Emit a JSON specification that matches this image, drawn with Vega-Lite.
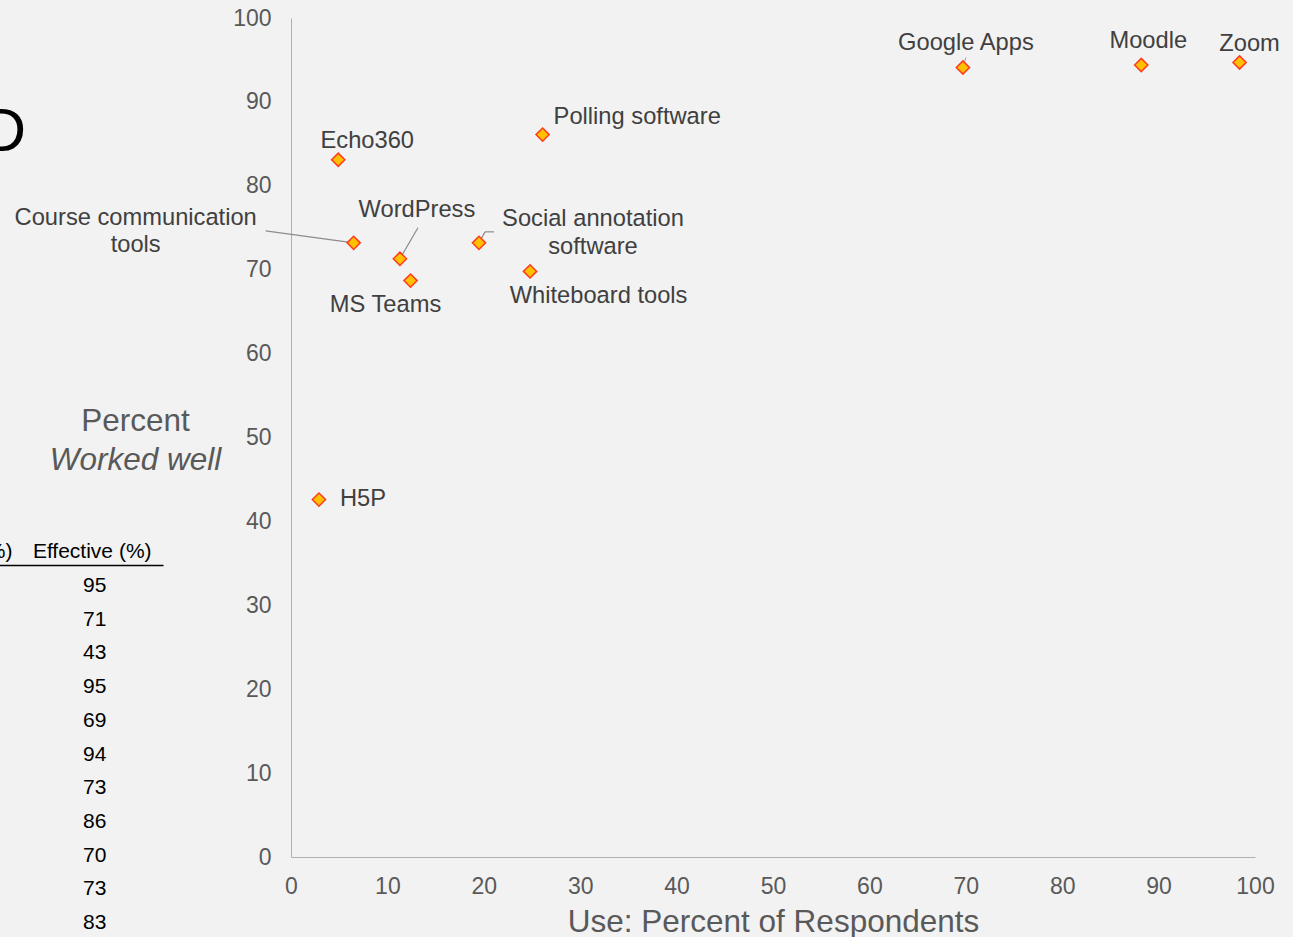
{
  "$schema": "https://vega.github.io/schema/vega-lite/v6.json",
  "width": 964,
  "height": 839,
  "autosize": {"type": "none"},
  "padding": {"left": 291, "top": 18, "right": 38, "bottom": 80},
  "background": "#f2f2f2",
  "config": {
    "view": {"stroke": null},
    "font": "Liberation Sans",
    "text": {"font": "Liberation Sans", "fontSize": 23.7, "color": "#404040", "align": "center", "baseline": "middle"},
    "axis": {"labelFont": "Liberation Sans", "titleFont": "Liberation Sans"}
  },
  "title": {"text": "D", "anchor": "start", "frame": "group", "fontSize": 61, "font": "Liberation Sans", "fontWeight": "normal", "color": "#000000", "baseline": "alphabetic", "offset": 0, "dx": -309, "dy": 205},
  "datasets": {
    "tools": [
      {"order": 1, "tool": "Moodle", "label": "Moodle", "use": 88.2, "worked": 94.4, "effective": 95},
      {"order": 2, "tool": "WordPress", "label": "WordPress", "use": 11.3, "worked": 71.3, "effective": 71},
      {"order": 3, "tool": "H5P", "label": "H5P", "use": 2.9, "worked": 42.6, "effective": 43},
      {"order": 4, "tool": "Zoom", "label": "Zoom", "use": 98.4, "worked": 94.7, "effective": 95},
      {"order": 5, "tool": "MS Teams", "label": "MS Teams", "use": 12.4, "worked": 68.7, "effective": 69},
      {"order": 6, "tool": "Google Apps", "label": "Google Apps", "use": 69.7, "worked": 94.1, "effective": 94},
      {"order": 7, "tool": "Course communication tools", "label": "Course communication\ntools", "use": 6.5, "worked": 73.2, "effective": 73},
      {"order": 8, "tool": "Polling software", "label": "Polling software", "use": 26.1, "worked": 86.1, "effective": 86},
      {"order": 9, "tool": "Whiteboard tools", "label": "Whiteboard tools", "use": 24.8, "worked": 69.8, "effective": 70},
      {"order": 10, "tool": "Social annotation software", "label": "Social annotation\nsoftware", "use": 19.5, "worked": 73.2, "effective": 73},
      {"order": 11, "tool": "Echo360", "label": "Echo360", "use": 4.9, "worked": 83.1, "effective": 83}
    ]
  },
  "data": {"name": "tools"},
  "layer": [
    {
      "layer": [
        {
          "transform": [{"filter": "datum.tool === 'Course communication tools'"}],
          "mark": {"type": "rule", "x2Offset": -88, "y2Offset": -12, "color": "#8c8c8c", "strokeWidth": 1.2},
          "encoding": {"x": {"field": "use", "type": "quantitative"}, "y": {"field": "worked", "type": "quantitative"}, "x2": {"field": "use"}, "y2": {"field": "worked"}}
        },
        {
          "transform": [{"filter": "datum.tool === 'WordPress'"}],
          "mark": {"type": "rule", "x2Offset": 18, "y2Offset": -31, "color": "#8c8c8c", "strokeWidth": 1.2},
          "encoding": {"x": {"field": "use", "type": "quantitative"}, "y": {"field": "worked", "type": "quantitative"}, "x2": {"field": "use"}, "y2": {"field": "worked"}}
        },
        {
          "transform": [{"filter": "datum.tool === 'Social annotation software'"}],
          "mark": {"type": "rule", "x2Offset": 6, "y2Offset": -11, "color": "#8c8c8c", "strokeWidth": 1.2},
          "encoding": {"x": {"field": "use", "type": "quantitative"}, "y": {"field": "worked", "type": "quantitative"}, "x2": {"field": "use"}, "y2": {"field": "worked"}}
        },
        {
          "transform": [{"filter": "datum.tool === 'Social annotation software'"}],
          "mark": {"type": "rule", "xOffset": 6, "yOffset": -11, "x2Offset": 15, "y2Offset": -11, "color": "#8c8c8c", "strokeWidth": 1.2},
          "encoding": {"x": {"field": "use", "type": "quantitative"}, "y": {"field": "worked", "type": "quantitative"}, "x2": {"field": "use"}, "y2": {"field": "worked"}}
        },
        {
          "transform": [{"filter": "datum.tool === 'Google Apps'"}],
          "mark": {"type": "rule", "x2Offset": 3, "y2Offset": -10, "color": "#a0a0a0", "strokeWidth": 1},
          "encoding": {"x": {"field": "use", "type": "quantitative"}, "y": {"field": "worked", "type": "quantitative"}, "x2": {"field": "use"}, "y2": {"field": "worked"}}
        },
        {
          "mark": {"type": "point", "shape": "diamond", "filled": true, "size": 175, "fill": "#ffc000", "stroke": "#ff3b1f", "strokeWidth": 1.5, "opacity": 1},
          "encoding": {
            "x": {
              "field": "use", "type": "quantitative",
              "scale": {"domain": [0, 100], "nice": false, "zero": true},
              "axis": {"title": "Use: Percent of Respondents", "values": [0, 10, 20, 30, 40, 50, 60, 70, 80, 90, 100], "grid": false, "ticks": false, "domainColor": "#b0b0b0", "domainWidth": 1, "labelFontSize": 23, "labelColor": "#595959", "labelPadding": 18, "labelFlush": false, "labelOverlap": false, "titleFontSize": 31.5, "titleColor": "#595959", "titleFontWeight": "normal", "titlePadding": 8}
            },
            "y": {
              "field": "worked", "type": "quantitative",
              "scale": {"domain": [0, 100], "nice": false, "zero": true},
              "axis": {"title": "Percent", "titleAngle": 0, "titleX": -156, "titleY": 403, "titleAlign": "center", "titleBaseline": "middle", "values": [0, 10, 20, 30, 40, 50, 60, 70, 80, 90, 100], "grid": false, "ticks": false, "domainColor": "#b0b0b0", "domainWidth": 1, "labelFontSize": 23, "labelColor": "#595959", "labelPadding": 20, "labelFlush": false, "labelOverlap": false, "titleFontSize": 31.5, "titleColor": "#595959", "titleFontWeight": "normal"}
            }
          }
        },
        {
          "transform": [{"filter": "datum.tool === 'Zoom'"}],
          "mark": {"type": "text", "dx": 10, "dy": -18},
          "encoding": {"x": {"field": "use", "type": "quantitative"}, "y": {"field": "worked", "type": "quantitative"}, "text": {"field": "label"}}
        },
        {
          "transform": [{"filter": "datum.tool === 'Moodle'"}],
          "mark": {"type": "text", "dx": 7, "dy": -24},
          "encoding": {"x": {"field": "use", "type": "quantitative"}, "y": {"field": "worked", "type": "quantitative"}, "text": {"field": "label"}}
        },
        {
          "transform": [{"filter": "datum.tool === 'Google Apps'"}],
          "mark": {"type": "text", "dx": 3, "dy": -25},
          "encoding": {"x": {"field": "use", "type": "quantitative"}, "y": {"field": "worked", "type": "quantitative"}, "text": {"field": "label"}}
        },
        {
          "transform": [{"filter": "datum.tool === 'Polling software'"}],
          "mark": {"type": "text", "align": "left", "dx": 11, "dy": -17.5},
          "encoding": {"x": {"field": "use", "type": "quantitative"}, "y": {"field": "worked", "type": "quantitative"}, "text": {"field": "label"}}
        },
        {
          "transform": [{"filter": "datum.tool === 'Echo360'"}],
          "mark": {"type": "text", "dx": 29, "dy": -19},
          "encoding": {"x": {"field": "use", "type": "quantitative"}, "y": {"field": "worked", "type": "quantitative"}, "text": {"field": "label"}}
        },
        {
          "transform": [{"filter": "datum.tool === 'WordPress'"}],
          "mark": {"type": "text", "dx": 17, "dy": -49},
          "encoding": {"x": {"field": "use", "type": "quantitative"}, "y": {"field": "worked", "type": "quantitative"}, "text": {"field": "label"}}
        },
        {
          "transform": [{"filter": "datum.tool === 'Social annotation software'"}],
          "mark": {"type": "text", "dx": 114, "dy": -24, "lineBreak": "\n", "lineHeight": 28},
          "encoding": {"x": {"field": "use", "type": "quantitative"}, "y": {"field": "worked", "type": "quantitative"}, "text": {"field": "label"}}
        },
        {
          "transform": [{"filter": "datum.tool === 'Whiteboard tools'"}],
          "mark": {"type": "text", "dx": 68.5, "dy": 25},
          "encoding": {"x": {"field": "use", "type": "quantitative"}, "y": {"field": "worked", "type": "quantitative"}, "text": {"field": "label"}}
        },
        {
          "transform": [{"filter": "datum.tool === 'MS Teams'"}],
          "mark": {"type": "text", "dx": -25, "dy": 24.5},
          "encoding": {"x": {"field": "use", "type": "quantitative"}, "y": {"field": "worked", "type": "quantitative"}, "text": {"field": "label"}}
        },
        {
          "transform": [{"filter": "datum.tool === 'Course communication tools'"}],
          "mark": {"type": "text", "dx": -218, "dy": -25, "lineBreak": "\n", "lineHeight": 27},
          "encoding": {"x": {"field": "use", "type": "quantitative"}, "y": {"field": "worked", "type": "quantitative"}, "text": {"field": "label"}}
        },
        {
          "transform": [{"filter": "datum.tool === 'H5P'"}],
          "mark": {"type": "text", "align": "left", "dx": 21, "dy": -1},
          "encoding": {"x": {"field": "use", "type": "quantitative"}, "y": {"field": "worked", "type": "quantitative"}, "text": {"field": "label"}}
        }
      ]
    },
    {
      "layer": [
        {
          "mark": {"type": "text", "fontSize": 21, "color": "#000000", "dx": 3, "dy": 1, "align": "center", "baseline": "middle"},
          "encoding": {
            "x": {
              "datum": "Effective (%)", "type": "nominal",
              "scale": {"type": "point", "domain": ["Tool", "Use (%)", "Effective (%)"], "range": [-505.8, -128], "padding": 0.606},
              "axis": {"orient": "top", "offset": -547, "title": null, "ticks": false, "grid": false, "labelAngle": 0, "labelFontSize": 21, "labelColor": "#000000", "labelPadding": 4, "domainColor": "#000000", "domainWidth": 1.5, "labelOverlap": false, "labelBound": false}
            },
            "y": {
              "field": "order", "type": "ordinal",
              "scale": {"type": "point", "range": [567, 904], "padding": 0},
              "axis": {"orient": "left", "title": "Worked well", "labels": false, "ticks": false, "domain": false, "grid": false, "titleAngle": 0, "titleX": -156, "titleY": 442, "titleAlign": "center", "titleBaseline": "middle", "titleFontStyle": "italic", "titleFontSize": 31.5, "titleColor": "#595959", "titleFontWeight": "normal"}
            },
            "text": {"field": "effective"}
          }
        }
      ]
    }
  ],
  "resolve": {"scale": {"x": "independent", "y": "independent"}, "axis": {"x": "independent", "y": "independent"}}
}
